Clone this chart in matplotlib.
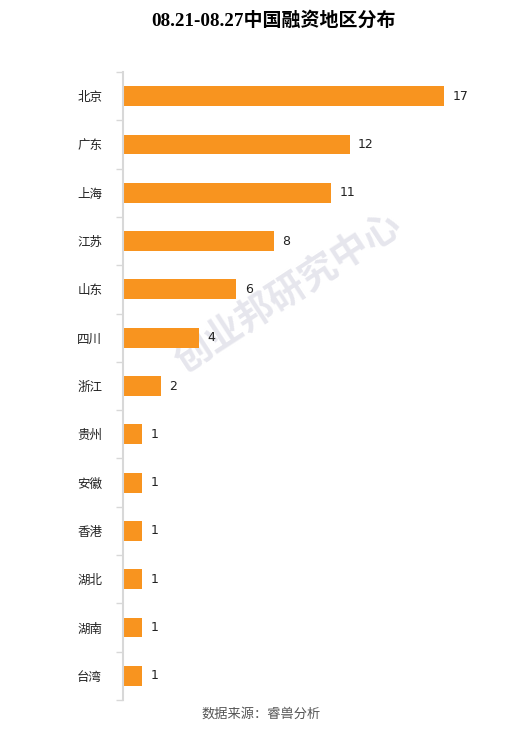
import matplotlib
matplotlib.use("Agg")
from matplotlib import pyplot as plt
import numpy as np

plt.rcParams['font.family'] = ['Noto Sans CJK SC', 'DejaVu Sans']

regions = ["北京", "广东", "上海", "江苏", "山东", "四川", "浙江",
           "贵州", "安徽", "香港", "湖北", "湖南", "台湾"]
counts = [17, 12, 11, 8, 6, 4, 2, 1, 1, 1, 1, 1, 1]

title = "08.21-08.27中国融资地区分布"
source = "数据来源：睿兽分析"
watermark = "创业邦研究中心"

fig = plt.figure(figsize=(5.18, 7.51), dpi=100)
ax = fig.add_axes([123 / 518, 1 - 700 / 751, 357 / 518, 628 / 751])
ax.patch.set_visible(False)

pos = np.arange(len(regions))
ax.barh(pos, counts, height=0.41, color="#f8941f", zorder=2)
for p, c in zip(pos, counts):
    ax.text(c + 0.45, p, str(c), va="center", ha="left", fontsize=9,
            color="#222222", family=['DejaVu Sans'], zorder=3)

ax.set_ylim(len(regions) - 0.5, -0.5)
ax.set_xlim(0, 18.9)
ax.set_yticks(pos)
ax.set_yticklabels(regions, fontsize=9, color="#222222")
ax.tick_params(axis="y", which="major", length=0, pad=15)
ax.set_yticks(np.arange(len(regions) + 1) - 0.5, minor=True)
ax.tick_params(axis="y", which="minor", length=5, width=1, color="#d8d8d8")
ax.set_xticks([])
for s in ["top", "right", "bottom"]:
    ax.spines[s].set_visible(False)
ax.spines["left"].set_color("#d8d8d8")
ax.spines["left"].set_linewidth(1.5)

# watermark behind the bars
ax.text(287 / 518, 1 - 292 / 751, watermark, transform=fig.transFigure,
        ha="center", va="center", fontsize=27, fontweight="bold",
        color="#e6e6ed", rotation=33, zorder=1, clip_on=False)

fig.text(274 / 518, 1 - 20 / 751, title, ha="center", va="center",
         fontsize=13.7, fontweight="bold",
         family=['Liberation Serif', 'Noto Sans CJK SC'])
fig.text(0.505, 1 - 714 / 751, source, ha="center", va="center",
         fontsize=9.5, color="#555555")

fig.savefig("out.png", dpi=100)
